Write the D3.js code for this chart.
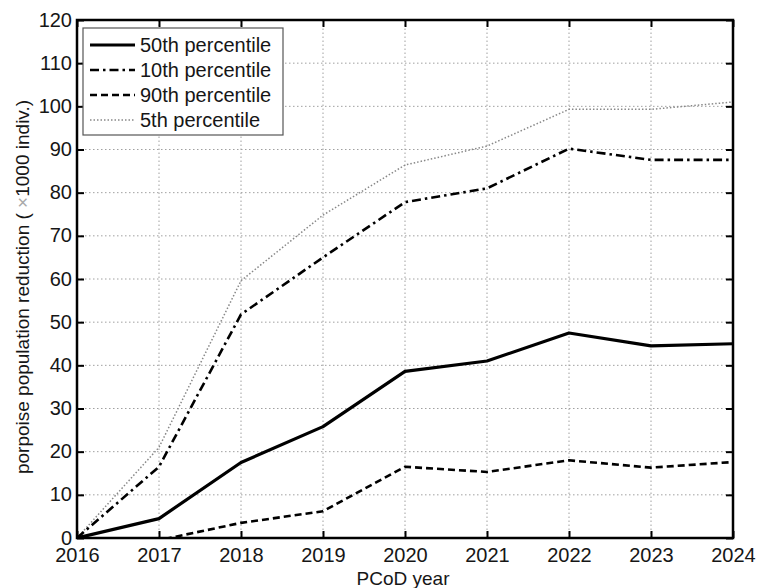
<!DOCTYPE html>
<html>
<head>
<meta charset="utf-8">
<script src="https://cdn.jsdelivr.net/npm/d3@7"></script>
<style>
  body { margin: 0; background: #fff; }
  svg { display: block; font-family: "Liberation Sans", Arial, Helvetica, sans-serif; }
</style>
</head>
<body>
<svg id="chart" width="761" height="588"></svg>
<script>
// PCoD years on the x axis
const years = [2016, 2017, 2018, 2019, 2020, 2021, 2022, 2023, 2024];
// population reduction (x1000 individuals) per percentile
const p50 = [0, 4.5, 17.5, 25.8, 38.6, 41.0, 47.5, 44.5, 45.0];
const p10 = [0, 16.5, 51.8, 65.0, 77.8, 81.0, 90.2, 87.6, 87.6];
const p90 = [0, -0.5, 3.5, 6.2, 16.5, 15.3, 18.0, 16.3, 17.6];
const p5  = [0, 21.0, 59.6, 74.8, 86.4, 90.8, 99.3, 99.3, 101.0];
const yTicks = [0, 10, 20, 30, 40, 50, 60, 70, 80, 90, 100, 110, 120];
const seriesNames = ["50th percentile", "10th percentile", "90th percentile", "5th percentile"];

const series = [
  { name: seriesNames[0], values: p50, stroke: "#000", width: 3.2, dash: null },
  { name: seriesNames[1], values: p10, stroke: "#000", width: 2.6, dash: "9,4,2.5,4" },
  { name: seriesNames[2], values: p90, stroke: "#000", width: 2.6, dash: "7,4" },
  { name: seriesNames[3], values: p5,  stroke: "#888", width: 1.5, dash: "1.5,2" }
];

const svg = d3.select("#chart");
const margin = { left: 77, right: 28, top: 20, bottom: 50 };
const W = 761, H = 588;
const x = d3.scaleLinear().domain([2016, 2024]).range([margin.left, W - margin.right]);
const y = d3.scaleLinear().domain([0, 120]).range([H - margin.bottom, margin.top]);

svg.append("defs").append("clipPath").attr("id", "plotClip")
  .append("rect")
  .attr("x", x(2016)).attr("y", y(120))
  .attr("width", x(2024) - x(2016)).attr("height", y(0) - y(120));

// dotted grid
const grid = svg.append("g").attr("stroke", "#a0a0a0").attr("stroke-width", 1)
  .attr("stroke-dasharray", "1.5,2.5");
grid.selectAll("line.v").data(years.slice(1, -1)).join("line")
  .attr("x1", d => x(d)).attr("x2", d => x(d))
  .attr("y1", y(0)).attr("y2", y(120));
grid.selectAll("line.h").data(yTicks.slice(1, -1)).join("line")
  .attr("x1", x(2016)).attr("x2", x(2024))
  .attr("y1", d => y(d)).attr("y2", d => y(d));

// data lines
const line = d3.line().x((d, i) => x(years[i])).y(d => y(d));
const lines = svg.append("g").attr("clip-path", "url(#plotClip)");
series.slice().reverse().forEach(s => {
  lines.append("path")
    .attr("d", line(s.values))
    .attr("fill", "none")
    .attr("stroke", s.stroke)
    .attr("stroke-width", s.width)
    .attr("stroke-dasharray", s.dash)
    .attr("stroke-linejoin", "round");
});

// axes with inward ticks on all four sides
const tickLen = 7;
const axisStyle = g => {
  g.select(".domain").remove();
  g.selectAll(".tick line").attr("stroke", "#000").attr("stroke-width", 2);
  g.selectAll(".tick text").attr("fill", "#161616").style("font-size", "20px");
};
svg.append("g").attr("transform", `translate(0,${y(0)})`)
  .call(d3.axisBottom(x).tickValues(years).tickFormat(d3.format("d"))
    .tickSizeInner(-tickLen).tickSizeOuter(0).tickPadding(10))
  .call(axisStyle);
svg.append("g").attr("transform", `translate(0,${y(120)})`)
  .call(d3.axisTop(x).tickValues(years).tickFormat("")
    .tickSizeInner(-tickLen).tickSizeOuter(0))
  .call(axisStyle);
svg.append("g").attr("transform", `translate(${x(2016)},0)`)
  .call(d3.axisLeft(y).tickValues(yTicks).tickFormat(d3.format("d"))
    .tickSizeInner(-tickLen).tickSizeOuter(0).tickPadding(5))
  .call(axisStyle)
  .call(g => g.selectAll(".tick text").attr("dy", "0.3em"));
svg.append("g").attr("transform", `translate(${x(2024)},0)`)
  .call(d3.axisRight(y).tickValues(yTicks).tickFormat("")
    .tickSizeInner(-tickLen).tickSizeOuter(0))
  .call(axisStyle);

// frame
svg.append("rect")
  .attr("x", x(2016)).attr("y", y(120))
  .attr("width", x(2024) - x(2016)).attr("height", y(0) - y(120))
  .attr("fill", "none").attr("stroke", "#000").attr("stroke-width", 2.5);

// axis titles
svg.append("text")
  .attr("x", (x(2016) + x(2024)) / 2 - 2).attr("y", 585)
  .attr("text-anchor", "middle").attr("fill", "#161616")
  .style("font-size", "19px").text("PCoD year");

const yt = svg.append("text")
  .attr("transform", `translate(29,${(y(0) + y(120)) / 2 + 8}) rotate(-90)`)
  .attr("text-anchor", "middle").attr("fill", "#161616")
  .style("font-size", "19px");
yt.append("tspan").text("porpoise population reduction ( ");
yt.append("tspan").attr("fill", "#aaa").text("×");
yt.append("tspan").text("1000 indiv.)");

// legend
const lg = svg.append("g").attr("transform", "translate(83,28)");
lg.append("rect").attr("width", 200).attr("height", 107)
  .attr("fill", "#fff").attr("stroke", "#555").attr("stroke-width", 1.2);
series.forEach((s, i) => {
  const cy = 17 + i * 25;
  lg.append("line")
    .attr("x1", 7).attr("x2", 52).attr("y1", cy).attr("y2", cy)
    .attr("stroke", s.stroke).attr("stroke-width", s.width)
    .attr("stroke-dasharray", s.dash);
  lg.append("text")
    .attr("x", 57).attr("y", cy + 7)
    .attr("fill", "#161616").style("font-size", "20px")
    .text(s.name);
});
</script>
</body>
</html>
